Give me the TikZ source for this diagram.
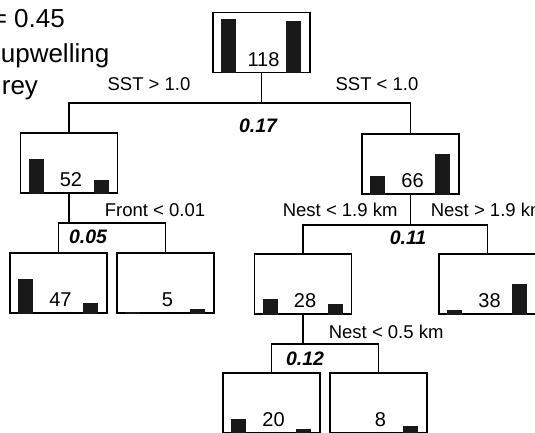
\documentclass[tikz,border=0pt]{standalone}
\usepackage{fontspec}
\setmainfont{Liberation Sans}

\tikzset{
  treebox/.style={draw,line width=1.7pt,minimum width=97pt,minimum height=60pt,inner sep=0pt},
  bar/.style={fill=black!90},
  count/.style={font=\fontsize{20}{24}\selectfont,inner sep=0pt,anchor=base},
  rule/.style={font=\fontsize{18.5}{22}\selectfont,inner sep=0pt},
  dev/.style={font=\fontsize{19.5}{24}\selectfont\bfseries\itshape,inner sep=0pt,anchor=base},
  legend/.style={font=\fontsize{26}{30}\selectfont,inner sep=0pt,anchor=base west}
}

\begin{document}
\begin{tikzpicture}[x=1pt,y=-1pt,line width=1.7pt]
\useasboundingbox (0,0) rectangle (535,433);

% boxes
\node[treebox] (n118) at (261.5,42.5) {};
\node[treebox] (n52) at (69,163) {};
\node[treebox] (n66) at (410.5,164) {};
\node[treebox] (n47) at (58.5,283) {};
\node[treebox] (n5) at (165.5,283) {};
\node[treebox] (n28) at (303,284) {};
\node[treebox] (n38) at (487.5,284) {};
\node[treebox] (n20) at (271.5,403) {};
\node[treebox] (n8) at (378.5,403) {};

% bars
\foreach \n/\l/\r in {n118/54/52,n52/35/14,n66/19/41,n47/35/11,n5/2/5,n28/16/11,n38/5/31,n20/15/5,n8/0/8}{
  \fill[bar] ([xshift=9pt]\n.south west) rectangle ++(15pt,\l pt);
  \fill[bar] ([xshift=74pt]\n.south west) rectangle ++(15pt,\r pt);
}

% counts
\foreach \n/\t in {n118/118,n52/52,n66/66,n47/47,n5/5,n28/28,n38/38,n20/20,n8/8}
  \node[count] (c\n) at ([xshift=2pt,yshift=7pt]\n.south) {\t};

% splits
\coordinate (s1) at (261.5,103);
\coordinate (s2) at (69,223);
\coordinate (s3) at (410.5,225);
\coordinate (s4) at (303,344);
\draw (n118.south) -- (s1);
\draw (n52.north) |- (s1) -| (n66.north);
\draw (n52.south) -- (s2);
\draw (n47.north) |- (s2) -| (n5.north);
\draw (n66.south) -- (s3);
\draw (n28.north) |- (s3) -| (n38.north);
\draw (n28.south) -- (s4);
\draw (n20.north) |- (s4) -| (n8.north);

% split rules
\node[rule,anchor=base] (sstgt) at (149,91) {SST > 1.0};
\node[rule,anchor=base] (sstlt) at (377,91) {SST < 1.0};
\node[rule,anchor=base west] (front) at (104,216) {Front < 0.01};
\node[rule,anchor=base west] (nestlt) at (282,216) {Nest < 1.9 km};
\node[rule,anchor=base west] (nestgt) at (430,216) {Nest > 1.9 km};
\node[rule,anchor=base west] (nestsm) at (328,338) {Nest < 0.5 km};

% deviance
\node[dev] (d1) at (258,132) {0.17};
\node[dev] (d2) at (88,243) {0.05};
\node[dev] (d3) at (408,244) {0.11};
\node[dev] (d4) at (305,365) {0.12};

% legend (cut at the left edge)
\node[legend] (r2) at (-9,28) {= 0.45};
\node[legend] (upw) at (0,63) {upwelling};
\node[legend] (prey) at (1,95) {rey};
\end{tikzpicture}
\end{document}
